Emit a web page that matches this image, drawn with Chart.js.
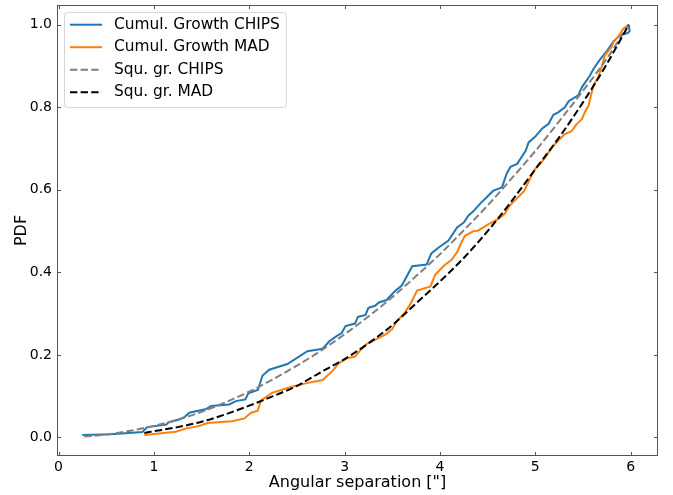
<!DOCTYPE html>
<html>
<head>
<meta charset="utf-8">
<script src="https://cdn.jsdelivr.net/npm/chart.js@4.4.1/dist/chart.umd.min.js"></script>
<style>
  html, body { margin: 0; padding: 0; background: #fff; }
  #wrap { width: 673px; height: 495px; }
</style>
</head>
<body>
<div id="wrap"><canvas id="pdfChart" width="673" height="495"></canvas></div>
<script>
// cumulative growth, CHIPS sample
const chipsX = [0.25, 0.55, 0.88, 0.93, 1.13, 1.15, 1.27, 1.32, 1.37, 1.55, 1.60, 1.79, 1.86, 1.96, 1.99, 2.09, 2.14, 2.21, 2.40, 2.61,
    2.77, 2.84, 2.92, 2.97, 3.01, 3.11, 3.14, 3.22, 3.25, 3.32, 3.36, 3.44, 3.53, 3.60, 3.71, 3.86, 3.91, 3.99, 4.09, 4.18,
    4.25, 4.30, 4.35, 4.42, 4.49, 4.56, 4.65, 4.70, 4.74, 4.81, 4.90, 4.93, 5.00, 5.07, 5.14, 5.19, 5.24, 5.31, 5.35, 5.45,
    5.49, 5.57, 5.61, 5.68, 5.75, 5.82, 5.89, 5.97, 5.99, 5.98];
const chipsY = [0.006, 0.008, 0.013, 0.025, 0.031, 0.036, 0.044, 0.049, 0.060, 0.069, 0.076, 0.080, 0.088, 0.092, 0.107, 0.115, 0.150, 0.164, 0.178, 0.209,
    0.215, 0.233, 0.246, 0.253, 0.270, 0.276, 0.292, 0.297, 0.314, 0.319, 0.327, 0.333, 0.355, 0.368, 0.415, 0.419, 0.446, 0.461, 0.477, 0.509,
    0.521, 0.538, 0.548, 0.566, 0.582, 0.598, 0.606, 0.639, 0.656, 0.663, 0.695, 0.715, 0.729, 0.748, 0.760, 0.782, 0.788, 0.800, 0.815, 0.829,
    0.849, 0.876, 0.893, 0.916, 0.936, 0.960, 0.975, 0.980, 0.985, 1.000];

// cumulative growth, MAD sample
const madX = [0.90, 1.23, 1.34, 1.48, 1.56, 1.82, 1.95, 2.02, 2.09, 2.12, 2.24, 2.42, 2.59, 2.77, 2.82, 2.87, 2.94, 3.03, 3.11, 3.16,
    3.23, 3.34, 3.44, 3.50, 3.55, 3.62, 3.69, 3.76, 3.90, 3.95, 4.04, 4.12, 4.18, 4.22, 4.26, 4.35, 4.40, 4.51, 4.62, 4.68,
    4.72, 4.75, 4.81, 4.88, 4.91, 4.95, 5.00, 5.05, 5.10, 5.14, 5.19, 5.24, 5.31, 5.38, 5.43, 5.49, 5.52, 5.56, 5.58, 5.61,
    5.66, 5.70, 5.73, 5.80, 5.82, 5.85, 5.89, 5.92, 5.98];
const madY = [0.006, 0.014, 0.022, 0.028, 0.035, 0.039, 0.046, 0.060, 0.065, 0.089, 0.108, 0.121, 0.131, 0.139, 0.150, 0.160, 0.180, 0.192, 0.196, 0.210,
    0.226, 0.239, 0.251, 0.263, 0.283, 0.299, 0.323, 0.356, 0.366, 0.394, 0.416, 0.430, 0.449, 0.470, 0.488, 0.500, 0.501, 0.517, 0.530, 0.542,
    0.558, 0.566, 0.580, 0.596, 0.610, 0.630, 0.651, 0.663, 0.677, 0.691, 0.707, 0.719, 0.735, 0.742, 0.758, 0.772, 0.788, 0.805, 0.825, 0.853,
    0.873, 0.901, 0.926, 0.946, 0.958, 0.966, 0.978, 0.990, 1.000];

// square growth curves
const squChipsX = [0.27, 0.5, 0.75, 1.0, 1.25, 1.5, 1.75, 2.0, 2.25, 2.5, 2.75, 3.0, 3.25, 3.5, 3.75, 4.0, 4.25, 4.5, 4.75, 5.0, 5.25, 5.5, 5.75, 5.98];
const squChipsY = [0.002, 0.007, 0.016, 0.028, 0.043, 0.062, 0.085, 0.111, 0.141, 0.174, 0.210, 0.250, 0.293, 0.340, 0.391, 0.444, 0.502, 0.562, 0.627, 0.694, 0.766, 0.840, 0.918, 1.0];
const squMadX = [0.9, 1.0, 1.25, 1.5, 1.75, 2.0, 2.25, 2.5, 2.75, 3.0, 3.25, 3.5, 3.75, 4.0, 4.25, 4.5, 4.75, 5.0, 5.25, 5.5, 5.75, 5.98];
const squMadY = [0.011, 0.015, 0.025, 0.038, 0.056, 0.077, 0.100, 0.125, 0.158, 0.190, 0.228, 0.272, 0.325, 0.378, 0.435, 0.500, 0.572, 0.650, 0.727, 0.812, 0.905, 1.0];

const xTicks = [0, 1, 2, 3, 4, 5, 6];
const yTicks = [0, 0.2, 0.4, 0.6, 0.8, 1.0];

const FONT = '"DejaVu Sans", sans-serif';

const pts = (xs, ys) => xs.map((x, i) => ({ x, y: ys[i] }));

// matplotlib style frame with inward ticks on all four sides
const frame = {
    id: 'frame',
    afterDatasetsDraw(chart) {
        const { ctx, chartArea: a, scales } = chart;
        ctx.save();
        ctx.strokeStyle = '#555';
        ctx.lineWidth = 1;
        ctx.strokeRect(a.left + 0.5, a.top + 0.5, a.right - a.left - 1, a.bottom - a.top - 1);
        ctx.beginPath();
        xTicks.forEach(v => {
            const px = Math.round(scales.x.getPixelForValue(v)) + 0.5;
            ctx.moveTo(px, a.bottom); ctx.lineTo(px, a.bottom - 4);
            ctx.moveTo(px, a.top); ctx.lineTo(px, a.top + 4);
        });
        yTicks.forEach(v => {
            const py = Math.round(scales.y.getPixelForValue(v)) + 0.5;
            ctx.moveTo(a.left, py); ctx.lineTo(a.left + 4, py);
            ctx.moveTo(a.right, py); ctx.lineTo(a.right - 4, py);
        });
        ctx.stroke();
        ctx.restore();
    }
};

// legend box in the upper left corner
const legendBox = {
    id: 'legendBox',
    afterDraw(chart) {
        const { ctx, chartArea: a } = chart;
        const items = chart.data.datasets;
        ctx.save();
        ctx.font = '15.4px ' + FONT;
        const rowH = 22.5;
        const x0 = a.left + 7, y0 = a.top + 7;
        const textW = Math.max(...items.map(d => ctx.measureText(d.label).width));
        const w = textW + 56, h = items.length * rowH + 5;
        ctx.beginPath();
        ctx.roundRect(x0 + 0.5, y0 + 0.5, w, h, 3);
        ctx.fillStyle = 'rgba(255,255,255,0.8)';
        ctx.fill();
        ctx.strokeStyle = '#d5d5d5';
        ctx.lineWidth = 1;
        ctx.stroke();
        items.forEach((d, i) => {
            const y = y0 + 12.7 + i * rowH;
            ctx.beginPath();
            ctx.setLineDash(d.borderDash || []);
            ctx.strokeStyle = d.borderColor;
            ctx.lineWidth = 2;
            ctx.moveTo(x0 + 6, y);
            ctx.lineTo(x0 + 38, y);
            ctx.stroke();
            ctx.setLineDash([]);
            ctx.fillStyle = '#000';
            ctx.textBaseline = 'middle';
            ctx.fillText(d.label, x0 + 50, y);
        });
        ctx.restore();
    }
};

new Chart(document.getElementById('pdfChart'), {
    type: 'line',
    data: {
        datasets: [
            { label: 'Cumul. Growth CHIPS', data: pts(chipsX, chipsY), borderColor: '#1f77b4', order: 4 },
            { label: 'Cumul. Growth MAD', data: pts(madX, madY), borderColor: '#ff7f0e', order: 3 },
            { label: 'Squ. gr. CHIPS', data: pts(squChipsX, squChipsY), borderColor: '#808080', borderDash: [7.4, 3.2], cubicInterpolationMode: 'monotone', order: 2 },
            { label: 'Squ. gr. MAD', data: pts(squMadX, squMadY), borderColor: '#000000', borderDash: [7.4, 3.2], cubicInterpolationMode: 'monotone', order: 1 }
        ]
    },
    options: {
        responsive: false,
        animation: false,
        elements: {
            line: { borderWidth: 2, tension: 0, fill: false },
            point: { radius: 0, hoverRadius: 0 }
        },
        layout: { padding: { left: 0, top: 5, right: 15, bottom: 0 } },
        plugins: {
            legend: { display: false },
            tooltip: { enabled: false }
        },
        scales: {
            x: {
                type: 'linear',
                min: -0.016,
                max: 6.287,
                afterBuildTicks: s => { s.ticks = xTicks.map(v => ({ value: v })); },
                afterFit: s => { s.height = 39; s.paddingLeft = 0; s.paddingRight = 0; },
                grid: { display: false, drawTicks: false },
                border: { display: false },
                ticks: { color: '#000', font: { family: FONT, size: 14 }, padding: 3, maxRotation: 0, callback: v => String(v) },
                title: { display: true, text: 'Angular separation ["]', color: '#000', font: { family: FONT, size: 16 }, padding: { bottom: 3 } }
            },
            y: {
                min: -0.045,
                max: 1.048,
                afterBuildTicks: s => { s.ticks = yTicks.map(v => ({ value: v })); },
                afterFit: s => { s.width = 57; s.paddingTop = 0; s.paddingBottom = 0; },
                grid: { display: false, drawTicks: false },
                border: { display: false },
                ticks: { color: '#000', font: { family: FONT, size: 14 }, padding: 5, callback: v => v.toFixed(1) },
                title: { display: true, text: 'PDF', color: '#000', font: { family: FONT, size: 16 }, padding: { top: 12.6 } }
            }
        }
    },
    plugins: [frame, legendBox]
});
</script>
</body>
</html>
